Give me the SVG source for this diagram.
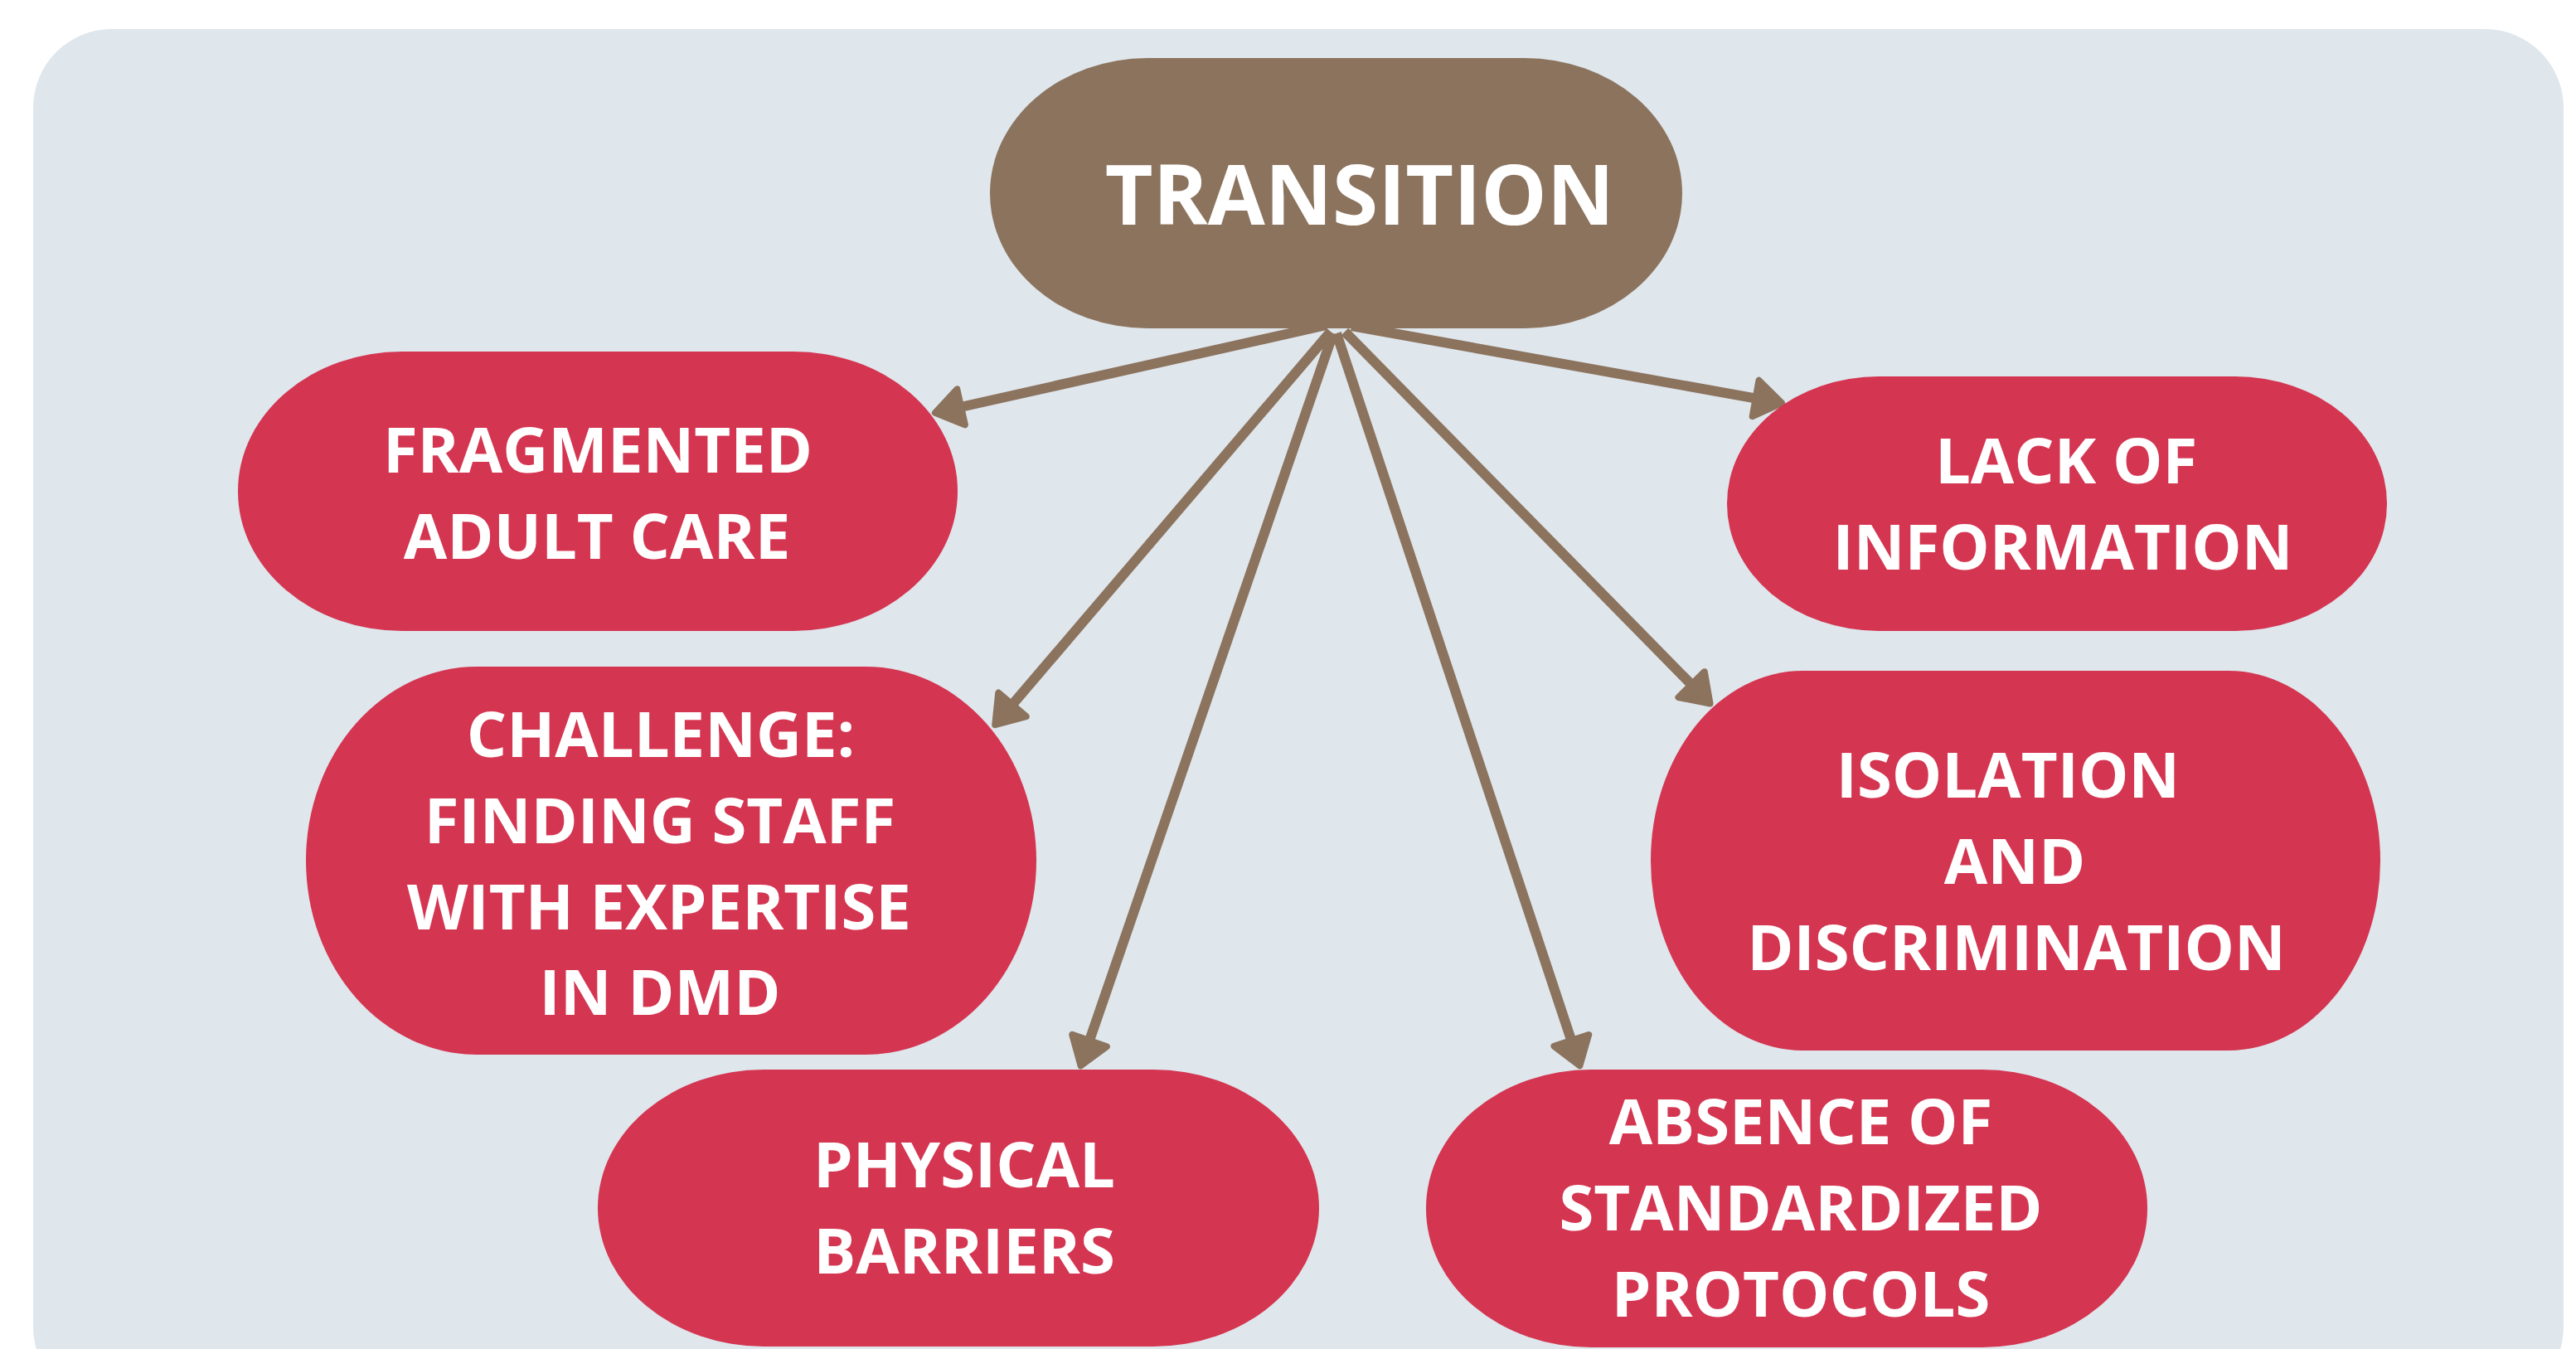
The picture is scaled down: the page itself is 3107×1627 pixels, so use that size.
<svg xmlns="http://www.w3.org/2000/svg" width="3107" height="1627" viewBox="0 0 3107 1627">
  <style>
    .bg { fill: #dfe6ec; }
    .hub { fill: #8b735e; }
    .node { fill: #d43551; }
    .conn { stroke: #8b735e; stroke-width: 12; fill: none; marker-end: url(#ah); }
    .t { font-family: "Open Sans", "Noto Sans", "Liberation Sans", sans-serif; font-weight: 700; fill: #ffffff; text-anchor: middle; font-size: 76px; }
    .th { font-size: 100px; }
  </style>
  <defs>
    <marker id="ah" markerUnits="userSpaceOnUse" markerWidth="60" markerHeight="60" viewBox="-60 -30 60 60" refX="-25" refY="0" orient="auto">
      <path d="M-5,0 L-37,-22 L-37,22 Z" fill="#8b735e" stroke="#8b735e" stroke-width="8" stroke-linejoin="round"/>
    </marker>
  </defs>
  <rect width="3107" height="1627" fill="#ffffff"/>
  <rect class="bg" x="40" y="35" width="3052" height="1660" rx="95" ry="95"/>
  <g id="connectors">
    <line class="conn" x1="1600" y1="392" x2="1147.4" y2="493.5"/>
    <line class="conn" x1="1630" y1="393" x2="2129.4" y2="482.6"/>
    <line class="conn" x1="1605" y1="400" x2="1213.2" y2="859.0"/>
    <line class="conn" x1="1608" y1="402" x2="1310.1" y2="1266.4"/>
    <line class="conn" x1="1612" y1="402" x2="1899.1" y2="1266.3"/>
    <line class="conn" x1="1622" y1="400" x2="2048.5" y2="834.2"/>
  </g>
  <g id="transition">
    <rect class="hub" x="1194" y="70" width="835" height="326" rx="190" ry="163"/>
    <text class="t th" x="1640" y="271">TRANSITION</text>
  </g>
  <g id="fragmented">
    <rect class="node" x="287" y="424" width="868" height="337" rx="198" ry="168"/>
    <text class="t" x="721" y="570">FRAGMENTED</text>
    <text class="t" x="720" y="674">ADULT CARE</text>
  </g>
  <g id="lack">
    <rect class="node" x="2083" y="454" width="796" height="307" rx="183" ry="153"/>
    <text class="t" x="2492" y="583">LACK OF</text>
    <text class="t" x="2488" y="687">INFORMATION</text>
  </g>
  <g id="challenge">
    <rect class="node" x="369" y="804" width="881" height="468" rx="206" ry="234"/>
    <text class="t" x="797" y="913">CHALLENGE:</text>
    <text class="t" x="796" y="1017">FINDING STAFF</text>
    <text class="t" x="795" y="1121">WITH EXPERTISE</text>
    <text class="t" x="796" y="1224">IN DMD</text>
  </g>
  <g id="isolation">
    <rect class="node" x="1991" y="809" width="880" height="458" rx="183" ry="229"/>
    <text class="t" x="2422" y="962">ISOLATION</text>
    <text class="t" x="2430" y="1066">AND</text>
    <text class="t" x="2432" y="1170">DISCRIMINATION</text>
  </g>
  <g id="physical">
    <rect class="node" x="721" y="1290" width="870" height="334" rx="200" ry="167"/>
    <text class="t" x="1163" y="1432">PHYSICAL</text>
    <text class="t" x="1163" y="1536">BARRIERS</text>
  </g>
  <g id="absence">
    <rect class="node" x="1720" y="1290" width="870" height="335" rx="199" ry="167"/>
    <text class="t" x="2172" y="1380">ABSENCE OF</text>
    <text class="t" x="2172" y="1484">STANDARDIZED</text>
    <text class="t" x="2172" y="1588">PROTOCOLS</text>
  </g>
</svg>
